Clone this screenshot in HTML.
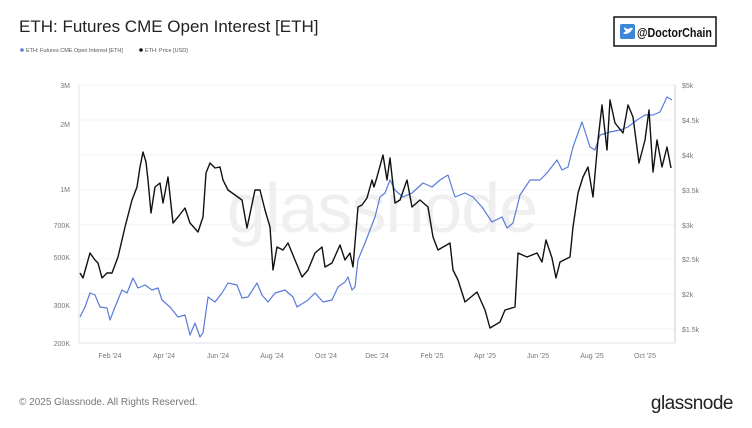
<!DOCTYPE html>
<html><head><meta charset="utf-8"><style>
body{margin:0;background:#fff;width:752px;height:423px;overflow:hidden;font-family:"Liberation Sans",sans-serif;}
</style></head><body>
<svg width="752" height="423" viewBox="0 0 752 423" xmlns="http://www.w3.org/2000/svg" font-family="Liberation Sans, sans-serif">
<rect width="752" height="423" fill="#fff"/>
<text x="19" y="32" font-size="17" fill="#222">ETH: Futures CME Open Interest [ETH]</text>
<rect x="614" y="17" width="102" height="29" fill="#fff" stroke="#111" stroke-width="1.5"/>
<rect x="620" y="24" width="15" height="15" rx="2" fill="#3b86d6"/>
<path d="M623 33 q4 3 9-3 l1-2 -1 0 q-2-1-3 1 q-3 0-5-2 q0 3 2 4 q-1 1-3 2z" fill="#fff"/>
<text x="637" y="37" font-size="13" font-weight="bold" fill="#111" textLength="75" lengthAdjust="spacingAndGlyphs">@DoctorChain</text>
<circle cx="22" cy="50" r="1.8" fill="#5b7bdb"/>
<text x="26" y="52" font-size="5.5" fill="#555">ETH: Futures CME Open Interest [ETH]</text>
<circle cx="141" cy="50" r="1.8" fill="#111"/>
<text x="145" y="52" font-size="5.5" fill="#555">ETH: Price [USD]</text>
<g stroke="#eef0f4" stroke-width="1">
<line x1="79" x2="675" y1="120" y2="120"/><line x1="79" x2="675" y1="155" y2="155"/><line x1="79" x2="675" y1="190" y2="190"/><line x1="79" x2="675" y1="225" y2="225"/><line x1="79" x2="675" y1="259" y2="259"/><line x1="79" x2="675" y1="294" y2="294"/><line x1="79" x2="675" y1="329" y2="329"/>
</g>
<line x1="79" x2="675" y1="85" y2="85" stroke="#eef0f4"/>
<line x1="79" x2="675" y1="343" y2="343" stroke="#dde0ea"/>
<line x1="79" x2="79" y1="85" y2="343" stroke="#dde3f3"/>
<line x1="675" x2="675" y1="85" y2="343" stroke="#ccc"/>
<text x="382" y="232" font-size="70" fill="#efefef" text-anchor="middle" letter-spacing="-1">glassnode</text>
<g font-size="7" fill="#777" text-anchor="end">
<text x="70" y="88">3M</text><text x="70" y="127">2M</text><text x="70" y="192">1M</text><text x="70" y="228">700K</text><text x="70" y="260">500K</text><text x="70" y="308">300K</text><text x="70" y="346">200K</text>
</g>
<g font-size="7" fill="#777">
<text x="682" y="88">$5k</text><text x="682" y="123">$4.5k</text><text x="682" y="158">$4k</text><text x="682" y="193">$3.5k</text><text x="682" y="228">$3k</text><text x="682" y="262">$2.5k</text><text x="682" y="297">$2k</text><text x="682" y="332">$1.5k</text>
</g>
<g font-size="7" fill="#777" text-anchor="middle">
<text x="110" y="358">Feb '24</text><text x="164" y="358">Apr '24</text><text x="218" y="358">Jun '24</text><text x="272" y="358">Aug '24</text><text x="326" y="358">Oct '24</text><text x="377" y="358">Dec '24</text><text x="432" y="358">Feb '25</text><text x="485" y="358">Apr '25</text><text x="538" y="358">Jun '25</text><text x="592" y="358">Aug '25</text><text x="645" y="358">Oct '25</text>
</g>
<polyline fill="none" stroke="#5b7bdb" stroke-width="1.2" stroke-linejoin="round" points="80,317 85,307 90,293 95,295 100,307 107,308 110,320 115,307 122,290 127,293 133,278 138,288 145,285 152,290 158,288 162,300 170,307 178,317 185,315 190,335 195,323 200,337 203,333 208,297 215,302 222,293 228,283 237,285 242,298 248,297 257,283 262,295 268,302 275,293 285,290 293,297 297,307 308,300 315,293 323,302 332,300 338,287 345,282 348,277 352,290 355,287 358,260 365,243 370,230 375,217 380,197 385,193 390,180 395,190 403,197 412,193 423,183 432,187 440,180 448,175 455,197 465,193 473,197 482,207 492,222 502,217 507,228 513,223 520,195 530,180 540,180 547,173 557,160 562,170 568,167 573,147 582,122 590,147 595,150 600,135 610,132 620,130 628,127 637,120 645,115 653,115 660,112 667,97 672,100"/>
<polyline fill="none" stroke="#111" stroke-width="1.4" stroke-linejoin="round" points="80,273 83,278 90,253 95,260 98,263 102,278 107,273 112,273 118,257 125,227 132,200 137,187 140,167 143,152 146,162 148,180 151,213 155,187 160,183 163,203 168,177 173,223 178,217 185,208 190,223 198,232 203,217 206,173 210,163 215,168 220,167 223,180 228,190 235,195 242,200 247,228 255,190 260,190 265,210 270,227 273,270 277,247 283,250 288,243 295,260 302,277 308,270 315,253 322,247 325,267 332,263 340,245 345,260 350,253 353,267 358,207 362,205 367,198 372,180 374,187 377,177 383,155 387,180 390,158 395,203 400,200 407,180 412,207 420,200 428,207 433,237 438,250 450,243 453,270 458,280 465,302 477,292 485,310 490,328 500,322 505,310 515,307 518,253 527,257 537,253 542,262 546,240 552,258 556,278 560,262 570,257 573,227 578,193 583,177 588,167 593,197 598,140 602,105 607,150 610,100 615,123 623,133 628,105 633,117 639,163 645,140 649,110 653,172 657,140 662,167 667,147 671,168"/>
<text x="19" y="405" font-size="10" fill="#777">© 2025 Glassnode. All Rights Reserved.</text>
<text x="733" y="409" font-size="19" fill="#222" text-anchor="end" letter-spacing="-0.5">glassnode</text>
</svg>
</body></html>
